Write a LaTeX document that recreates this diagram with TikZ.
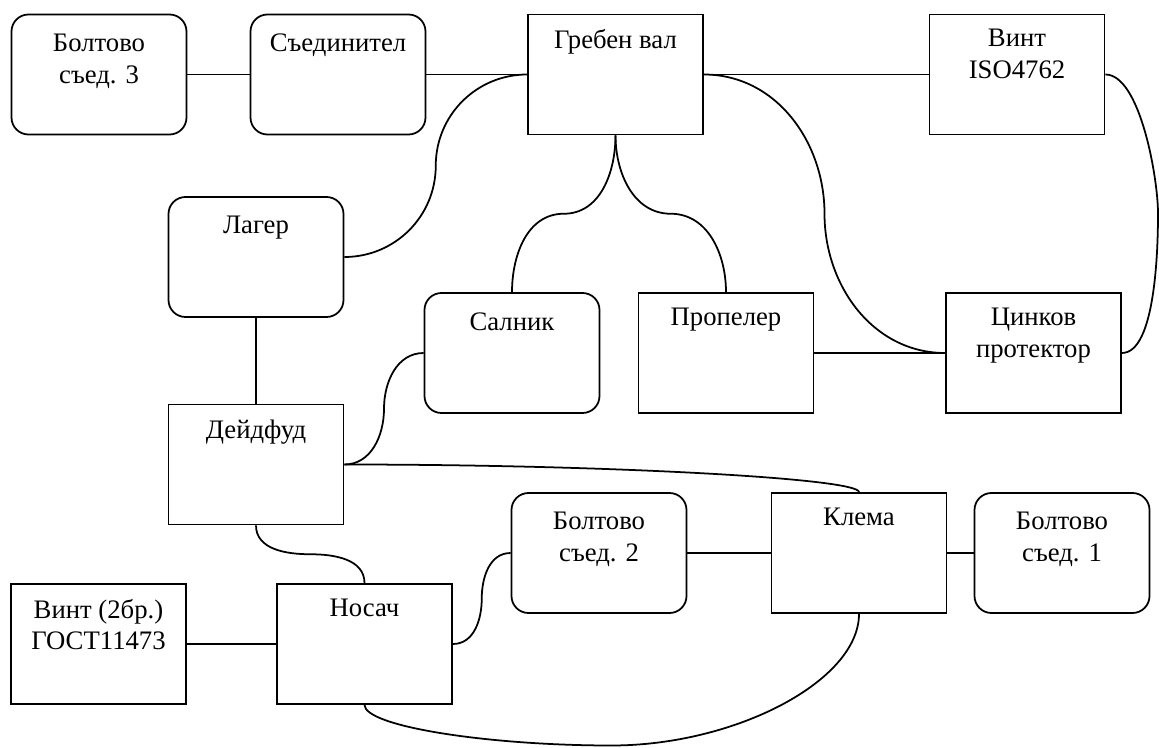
\documentclass[tikz,border=0pt]{standalone}
\usepackage{fontspec}
\setmainfont{Liberation Serif}
\usetikzlibrary{calc}

\begin{document}
\begin{tikzpicture}[
  font=\fontsize{15.2}{18}\selectfont,
  unit/.style={draw, line width=1pt, minimum width=3.5cm, minimum height=2.4cm},
  tag/.style={anchor=north, inner sep=0pt, align=center},
  block/.style={unit, label={[tag, yshift=-0.31cm]north:#1}},
  rblock/.style={unit, rounded corners=0.34cm, label={[tag, yshift=-0.40cm]north:#1}},
  link/.style={line width=1pt}]
  \useasboundingbox (0,0) rectangle (23.18,-14.96);

  % top row
  \node[rblock={Болтово\\съед. 3}] (bolt3) at (1.98,-1.49) {};
  \node[rblock={Съединител}] (coupling) at (6.76,-1.49) {};
  \node[block={Гребен вал}] (shaft) at (12.31,-1.49) {};
  \node[block={Винт\\ISO4762}] (screwiso) at (20.34,-1.49) {};

  % middle
  \node[rblock={Лагер}] (bearing) at (5.12,-5.14) {};
  \node[rblock={Салник}] (seal) at (10.24,-7.06) {};
  \node[block={Пропелер}] (propeller) at (14.52,-7.06) {};
  \node[block={Цинков\\протектор}] (anode) at (20.67,-7.06) {};
  \node[block={Дейдфуд}] (deadwood) at (5.12,-9.29) {};

  % bottom
  \node[rblock={Болтово\\съед. 2}] (bolt2) at (11.98,-11.06) {};
  \node[block={Клема}] (clamp) at (17.18,-11.06) {};
  \node[rblock={Болтово\\съед. 1}] (bolt1) at (21.24,-11.06) {};
  \node[block={Винт (2бр.)\\ГОСТ11473}] (screwgost) at (1.97,-12.88) {};
  \node[block={Носач}] (carrier) at (7.29,-12.88) {};

  \coordinate (swing) at (23.16,-4.265);
  \coordinate (dip) at (12.23,-14.91);

  % straight links
  \draw[link] (bolt3.east) -- (coupling.west);
  \draw[link] (coupling.east) -- (shaft.west);
  \draw[link] (shaft.east) -- (screwiso.west);
  \draw[link] (propeller.east) -- (anode.west);
  \draw[link] (bearing.south) -- (deadwood.north);
  \draw[link] (screwgost.east) -- (carrier.west);
  \draw[link] (bolt2.east) -- (clamp.west);
  \draw[link] (clamp.east) -- (bolt1.west);

  % curved links
  \draw[link] (shaft.west) to[out=180,in=90] ($(shaft.west)!0.5!(bearing.east)$) to[out=-90,in=0] (bearing.east);
  \draw[link] (shaft.south) to[out=-90,in=0] ($(shaft.south)!0.5!(seal.north)$) to[out=180,in=90] (seal.north);
  \draw[link] (shaft.south) to[out=-90,in=180] ($(shaft.south)!0.5!(propeller.north)$) to[out=0,in=90] (propeller.north);
  \draw[link] (shaft.east) to[out=0,in=90] ($(shaft.east)!0.5!(anode.west)$) to[out=-90,in=180] (anode.west);
  \draw[link] (screwiso.east) to[out=0,in=90,looseness=0.6] (swing) to[out=-90,in=0,looseness=0.6] (anode.east);
  \draw[link] (seal.west) to[out=180,in=90] ($(seal.west)!0.5!(deadwood.east)$) to[out=-90,in=0] (deadwood.east);
  \draw[link] (deadwood.east) .. controls +(5.16,0) and +(0,0.28) .. (clamp.north);
  \draw[link] (deadwood.south) to[out=-90,in=180] ($(deadwood.south)!0.5!(carrier.north)$) to[out=0,in=90] (carrier.north);
  \draw[link] (carrier.east) to[out=0,in=-90] ($(carrier.east)!0.5!(bolt2.west)$) to[out=90,in=180] (bolt2.west);
  \draw[link] (carrier.south) .. controls +(0,-0.43) and +(-2.475,0) .. (dip) .. controls +(2.475,0) and +(0,-1.34) .. (clamp.south);
\end{tikzpicture}
\end{document}
